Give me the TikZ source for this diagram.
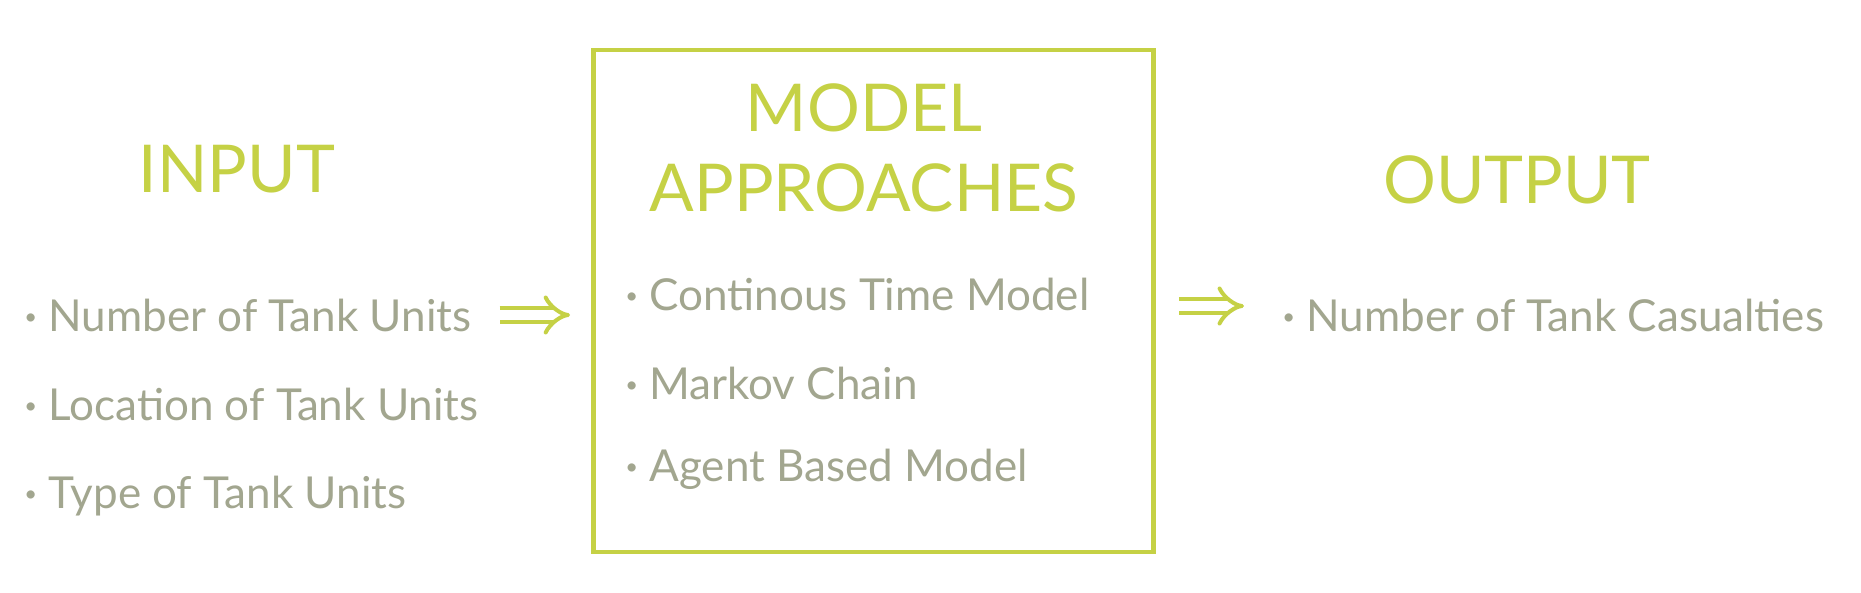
\documentclass[tikz,border=0pt]{standalone}
\usepackage{fontspec}
\setmainfont{Lato}
\usetikzlibrary{positioning,arrows.meta}
\definecolor{lime}{HTML}{C5D145}
\definecolor{sage}{HTML}{A2A68F}
\newcommand{\pt}{\raisebox{0.3ex}{\scalebox{0.5}{\textbullet}}\ }
\tikzset{
  head/.style={text=lime,font=\fontsize{33}{40}\selectfont,align=center,inner sep=0pt},
  item/.style={text=sage,font=\fontsize{22}{26}\selectfont,anchor=west,inner sep=0pt},
  frame/.style={rectangle,draw=lime,line width=2.4pt,minimum width=280pt,minimum height=251pt},
  dbl/.style={draw=lime,double=white,double distance=4.6pt,line width=2pt,-{Implies}},
}
\begin{document}
\begin{tikzpicture}[x=0.5pt,y=-0.5pt]
  \useasboundingbox[fill=white] (0,0) rectangle (1861,593);
  % three columns
  \node[head] (inp) at (237,169) {INPUT};
  \node[item] (in1) at (24,315) {\pt Number of Tank Units};
  \node[item] (in2) at (24,404) {\pt Location of Tank Units};
  \node[item] (in3) at (24,496) {\pt Type of Tank Units};

  \node[frame] (box) at (873.5,301) {};
  \node[head] (mod) at (864,148) {MODEL\\APPROACHES};
  \node[item] (m1) at (625,294) {\pt Continous Time Model};
  \node[item] (m2) at (625,383) {\pt Markov Chain};
  \node[item] (m3) at (625,469) {\pt Agent Based Model};

  \node[head] (outp) at (1517,180) {OUTPUT};
  \node[item] (o1) at (1282,315) {\pt Number of Tank Casualties};

  \draw[dbl,shorten <=14pt,shorten >=10.5pt] (in1.east) -- (in1.east -| box.west);
  \draw[dbl,shorten <=11.5pt,shorten >=19pt] ([yshift=4.5pt]box.east |- o1.west) -- ([yshift=4.5pt]o1.west);
\end{tikzpicture}
\end{document}
